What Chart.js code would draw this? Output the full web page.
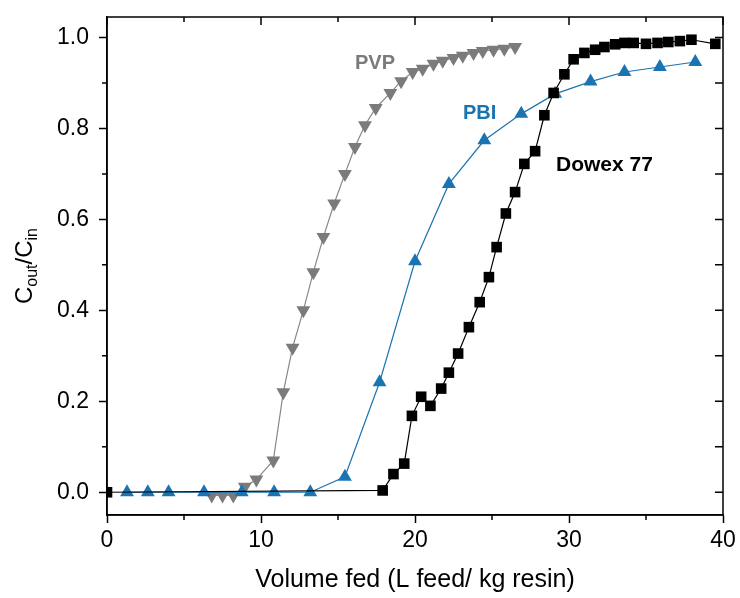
<!DOCTYPE html>
<html>
<head>
<meta charset="utf-8">
<script src="https://cdn.jsdelivr.net/npm/chart.js@4/dist/chart.umd.min.js"></script>
<style>
  body { margin: 0; background: #fff; }
  canvas { display: block; }
</style>
</head>
<body>
<canvas id="chart" width="740" height="598"></canvas>
<script>
// values
const dowexX = [0, 17.9, 18.6, 19.3, 19.8, 20.4, 21.0, 21.7, 22.2, 22.8, 23.5, 24.2, 24.8, 25.3, 25.9, 26.5, 27.1, 27.8, 28.4, 29.0, 29.7, 30.3, 31.0, 31.7, 32.3, 33.0, 33.6, 34.2, 35.0, 35.75, 36.45, 37.2, 37.95, 39.5]
const dowexY = [0, 0.004, 0.04, 0.063, 0.168, 0.21, 0.19, 0.228, 0.263, 0.305, 0.363, 0.418, 0.473, 0.539, 0.613, 0.66, 0.722, 0.75, 0.829, 0.878, 0.919, 0.952, 0.966, 0.973, 0.979, 0.985, 0.988, 0.988, 0.986, 0.988, 0.99, 0.992, 0.995, 0.986]

const pbiX = [1.3, 2.65, 4.0, 6.3, 8.75, 10.85, 13.2, 15.45, 17.7, 20.0, 22.2, 24.5, 26.9, 29.1, 31.4, 33.6, 35.9, 38.2]
const pbiY = [0, 0, 0, 0, 0, 0, 0, 0.034, 0.242, 0.508, 0.678, 0.774, 0.832, 0.876, 0.903, 0.924, 0.935, 0.946]

const pvpX = [6.8, 7.5, 8.2, 8.95, 9.7, 10.8, 11.45, 12.05, 12.75, 13.4, 14.05, 14.75, 15.45, 16.1, 16.75, 17.45, 18.4, 19.1, 19.85, 20.5, 21.2, 21.8, 22.5, 23.1, 23.8, 24.4, 25.1, 25.8, 26.5]
const pvpY = [-0.007, -0.007, -0.007, 0.012, 0.028, 0.07, 0.22, 0.318, 0.40, 0.484, 0.561, 0.635, 0.70, 0.759, 0.807, 0.845, 0.878, 0.904, 0.924, 0.931, 0.942, 0.949, 0.955, 0.96, 0.966, 0.97, 0.973, 0.975, 0.979]

const xTicks = [0, 10, 20, 30, 40]
const yTicks = [0, 0.2, 0.4, 0.6, 0.8, 1.0]
const xMinor = [5, 15, 25, 35]
const yMinor = [0.1, 0.3, 0.5, 0.7, 0.9]

const labels = [
  {text: 'PVP', x: 17.4, y: 0.943, color: '#7b7b7b', size: 20},
  {text: 'PBI', x: 24.2, y: 0.833, color: '#1a74b2', size: 20},
  {text: 'Dowex 77', x: 32.3, y: 0.719, color: '#000', size: 21}
]

const FONT = "'Liberation Sans', Arial, sans-serif"
const pts = (xs, ys) => xs.map((x, i) => ({x, y: ys[i]}))

// frame, minor ticks, inner ticks on top/right, y title and curve labels
const decor = {
  id: 'decor',
  afterDraw(chart) {
    const {ctx, chartArea: a, scales: {x, y}} = chart
    ctx.save()
    ctx.strokeStyle = '#000'
    ctx.lineWidth = 1.5
    ctx.strokeRect(a.left, a.top, a.right - a.left, a.bottom - a.top)
    ctx.beginPath()
    xTicks.concat(xMinor).forEach(v => {
      const px = x.getPixelForValue(v)
      const len = xMinor.includes(v) ? 5 : 8
      ctx.moveTo(px, a.top); ctx.lineTo(px, a.top + len)
      if (xMinor.includes(v)) { ctx.moveTo(px, a.bottom); ctx.lineTo(px, a.bottom + 5) }
    })
    yTicks.concat(yMinor).forEach(v => {
      const py = y.getPixelForValue(v)
      ctx.moveTo(a.right, py); ctx.lineTo(a.right - 8, py)
      if (yMinor.includes(v)) { ctx.moveTo(a.left, py); ctx.lineTo(a.left - 5, py) }
    })
    ctx.stroke()

    // C_out/C_in rotated
    ctx.fillStyle = '#000'
    ctx.textBaseline = 'alphabetic'
    const big = '24px ' + FONT, small = '16px ' + FONT
    const parts = [['C', big, 0], ['out', small, 5], ['/C', big, 0], ['in', small, 5]]
    let w = 0
    parts.forEach(p => { ctx.font = p[1]; p.push(ctx.measureText(p[0]).width); w += p[3] })
    ctx.translate(0, (a.top + a.bottom) / 2)
    ctx.rotate(-Math.PI / 2)
    let cx = -w / 2
    parts.forEach(p => {
      ctx.font = p[1]
      ctx.fillText(p[0], cx, 32 + p[2])
      cx += p[3]
    })
    ctx.setTransform(1, 0, 0, 1, 0, 0)

    ctx.textAlign = 'center'
    ctx.textBaseline = 'middle'
    labels.forEach(l => {
      ctx.font = 'bold ' + l.size + 'px ' + FONT
      ctx.fillStyle = l.color
      ctx.fillText(l.text, x.getPixelForValue(l.x), y.getPixelForValue(l.y))
    })
    ctx.restore()
  }
}

const chart = new Chart(document.getElementById('chart'), {
  type: 'scatter',
  data: {
    datasets: [
      {
        label: 'Dowex 77',
        data: pts(dowexX, dowexY),
        showLine: true,
        borderColor: '#000',
        backgroundColor: '#000',
        borderWidth: 1.2,
        pointStyle: 'rect',
        pointRadius: 7.5,
        pointBorderWidth: 0
      },
      {
        label: 'PBI',
        data: pts(pbiX, pbiY),
        showLine: true,
        borderColor: '#1a74b2',
        backgroundColor: '#1a74b2',
        borderWidth: 1.2,
        pointStyle: 'triangle',
        pointRadius: 8,
        pointBorderWidth: 0
      },
      {
        label: 'PVP',
        data: pts(pvpX, pvpY),
        showLine: true,
        borderColor: '#888',
        backgroundColor: '#7b7b7b',
        borderWidth: 1.2,
        pointStyle: 'triangle',
        pointRotation: 180,
        pointRadius: 8,
        pointBorderWidth: 0
      }
    ]
  },
  options: {
    responsive: false,
    animation: false,
    layout: {padding: {top: 17, right: 17, left: 0, bottom: 0}},
    plugins: {legend: {display: false}, tooltip: {enabled: false}},
    scales: {
      x: {
        type: 'linear',
        min: 0,
        max: 40,
        afterBuildTicks: s => { s.ticks = xTicks.map(v => ({value: v})) },
        afterFit: s => { s.height = 83; s.paddingLeft = 0; s.paddingRight = 0 },
        grid: {drawOnChartArea: false, drawTicks: true, tickLength: 8, tickWidth: 1.5, color: '#000'},
        border: {display: true, color: '#000', width: 1.5},
        ticks: {color: '#000', font: {family: FONT, size: 23}, padding: 4, maxRotation: 0},
        title: {display: true, text: 'Volume fed (L feed/ kg resin)', color: '#000', font: {family: FONT, size: 25}, padding: {bottom: 3}}
      },
      y: {
        type: 'linear',
        min: -0.05,
        max: 1.045,
        afterBuildTicks: s => { s.ticks = yTicks.map(v => ({value: v})) },
        afterFit: s => { s.width = 107; s.paddingTop = 0; s.paddingBottom = 0 },
        grid: {drawOnChartArea: false, drawTicks: true, tickLength: 8, tickWidth: 1.5, color: '#000'},
        border: {display: true, color: '#000', width: 1.5},
        ticks: {color: '#000', font: {family: FONT, size: 23}, padding: 10, callback: v => v.toFixed(1)}
      }
    }
  },
  plugins: [decor]
})
</script>
</body>
</html>
